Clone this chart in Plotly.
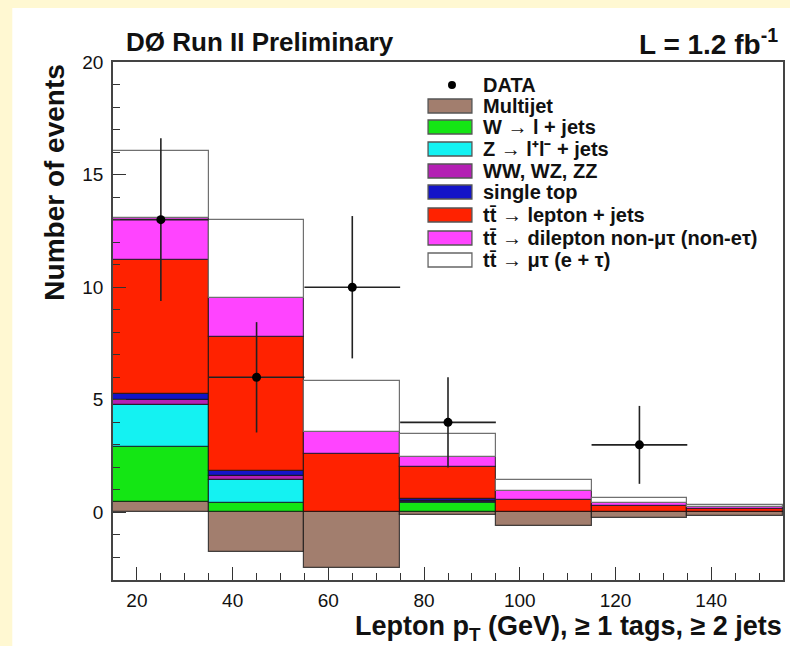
import plotly.graph_objects as go

# ---------------- data ----------------
bin_centers = [25, 45, 65, 85, 105, 125, 145]
multijet   = [0.47, -1.75, -2.45, -0.10, -0.58, -0.25, -0.15]
w_jets     = [2.42, 0.40, 0.00, 0.40, 0.00, 0.00, 0.00]
z_jets     = [1.90, 1.05, 0.00, 0.08, 0.00, 0.00, 0.00]
diboson    = [0.20, 0.15, 0.00, 0.05, 0.00, 0.00, 0.00]
single_top = [0.27, 0.25, 0.00, 0.05, 0.00, 0.00, 0.02]
tt_ljets   = [5.97, 5.95, 2.60, 1.42, 0.57, 0.30, 0.15]
tt_dilep   = [1.85, 1.70, 0.96, 0.46, 0.36, 0.10, 0.08]
tt_mutau   = [2.95, 3.50, 2.26, 1.04, 0.50, 0.24, 0.10]

data_x    = [25, 45, 65, 85, 125]
data_y    = [13, 6, 10, 4, 3]
data_err  = [3.61, 2.45, 3.16, 2.00, 1.73]
data_xerr = [10, 10, 10, 10, 10]

labels = ["Multijet", "W \u2192 l + jets", "Z \u2192 l\u207Al\u207B + jets", "WW, WZ, ZZ",
          "single top", "tt\u0304 \u2192 lepton + jets",
          "tt\u0304 \u2192 dilepton non-\u03BC\u03C4 (non-e\u03C4)", "tt\u0304 \u2192 \u03BC\u03C4 (e + \u03C4)"]
series = [multijet, w_jets, z_jets, diboson, single_top, tt_ljets, tt_dilep, tt_mutau]
colors = ["#A27E6E", "#14E614", "#14F2F2", "#B420B4", "#1414C8", "#FF2200", "#FF44FF", "#FFFFFF"]

# ---------------- geometry helpers (pixel -> paper) ----------------
W_PX, H_PX = 790, 646
L, R, T, B = 113, 785, 62, 580
def px(x):
    return (x - L) / (R - L)
def py(y):
    return (B - y) / (B - T)

FONT = "Liberation Sans, Arial, Helvetica, sans-serif"

fig = go.Figure()
for name, vals, col in zip(labels, series, colors):
    line_col = "#707070" if col == "#FFFFFF" else "rgba(20,20,20,0.75)"
    fig.add_trace(go.Bar(x=bin_centers, y=vals, name=name, marker_color=col,
                         marker_line=dict(color=line_col, width=1.2),
                         showlegend=False))

fig.add_trace(go.Scatter(x=data_x, y=data_y, mode="markers", name="DATA",
                         marker=dict(color="black", size=9),
                         error_y=dict(type="data", array=data_err, color="#222", thickness=1.6, width=0),
                         error_x=dict(type="data", array=data_xerr, color="#222", thickness=1.6, width=0),
                         showlegend=False))

shapes = []
annotations = []
# white canvas over the yellow page
shapes.append(dict(type="rect", xref="paper", yref="paper", x0=px(12), x1=px(805),
                   y0=py(660), y1=py(8), fillcolor="white", line=dict(width=0), layer="below"))

# manual legend
rows = [85, 106, 127, 149, 171, 192, 215, 238, 260]
LEG_FONT = dict(family=FONT, size=20, color="#111")
shapes.append(dict(type="circle", xref="paper", yref="paper", x0=px(449), x1=px(457),
                   y0=py(rows[0] + 4), y1=py(rows[0] - 4), fillcolor="black", line=dict(width=0)))
annotations.append(dict(text="<b>DATA</b>", x=px(482), y=py(rows[0]), xref="paper", yref="paper",
                        xanchor="left", yanchor="middle", showarrow=False, font=LEG_FONT))
for i, (name, col) in enumerate(zip(labels, colors)):
    r = rows[i + 1]
    shapes.append(dict(type="rect", xref="paper", yref="paper", x0=px(429), x1=px(473),
                       y0=py(r + 7), y1=py(r - 7), fillcolor=col,
                       line=dict(color="#555" if col != "#FFFFFF" else "#666", width=1.3)))
    annotations.append(dict(text="<b>" + name + "</b>", x=px(482), y=py(r), xref="paper", yref="paper",
                            xanchor="left", yanchor="middle", showarrow=False, font=LEG_FONT))

annotations.append(dict(text="<b>D\u00D8 Run II Preliminary</b>", x=px(124), y=py(42),
                        xref="paper", yref="paper", xanchor="left", yanchor="middle",
                        showarrow=False, font=dict(family=FONT, size=26, color="#111")))
annotations.append(dict(text="<b>L = 1.2 fb<sup>-1</sup></b>", x=px(782), y=py(42),
                        xref="paper", yref="paper", xanchor="right", yanchor="middle",
                        showarrow=False, font=dict(family=FONT, size=28, color="#111")))
annotations.append(dict(text="<b>Number of events</b>", x=px(54), y=py(62),
                        xref="paper", yref="paper", xanchor="center", yanchor="top",
                        textangle=-90, showarrow=False, font=dict(family=FONT, size=28, color="#111")))
annotations.append(dict(text="<b>Lepton p<sub>T</sub> (GeV), \u2265 1 tags, \u2265 2 jets</b>",
                        x=px(786), y=py(628), xref="paper", yref="paper",
                        xanchor="right", yanchor="middle", showarrow=False,
                        font=dict(family=FONT, size=27, color="#111")))

fig.update_layout(
    width=W_PX, height=H_PX, autosize=False,
    margin=dict(l=L, r=W_PX - R, t=T, b=H_PX - B, pad=0),
    paper_bgcolor="#FFF8D2", plot_bgcolor="white",
    barmode="relative", bargap=0,
    shapes=shapes, annotations=annotations, showlegend=False,
    xaxis=dict(range=[15, 155], tick0=20, dtick=20, ticks="inside", ticklen=13, tickwidth=1.3,
               tickcolor="#333", showline=True, linecolor="#444", linewidth=1.6, mirror=True,
               showgrid=False, zeroline=False, ticklabelstandoff=2,
               tickfont=dict(family=FONT, size=19, color="#111"),
               minor=dict(dtick=5, tick0=20, ticks="inside", ticklen=7, tickcolor="#333", showgrid=False)),
    yaxis=dict(range=[-3, 20], tick0=0, dtick=5, ticks="inside", ticklen=13, tickwidth=1.3,
               tickcolor="#333", showline=True, linecolor="#444", linewidth=1.6, mirror=True,
               showgrid=False, zeroline=False, ticklabelstandoff=4,
               tickfont=dict(family=FONT, size=19, color="#111"),
               minor=dict(dtick=1, tick0=0, ticks="inside", ticklen=7, tickcolor="#333", showgrid=False)),
)

fig.write_html("out.html")
